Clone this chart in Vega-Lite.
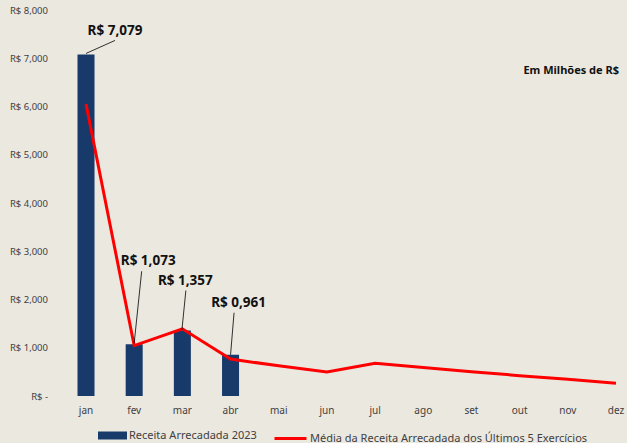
{
  "$schema": "https://vega.github.io/schema/vega-lite/v6.json",
  "width": 547,
  "height": 386,
  "autosize": "none",
  "padding": {"left": 77.5, "top": 10, "right": 2.5, "bottom": 47},
  "background": "#ebe8e0",
  "config": {
    "view": {"stroke": null},
    "font": "Noto Sans",
    "axis": {"grid": false, "domain": false, "ticks": false, "labelFont": "Noto Sans", "labelColor": "#404040", "title": null}
  },
  "data": {
    "values": [
      {"mes": "jan", "receita": 7079, "media": 6050, "rotulo": "R$ 7,079"},
      {"mes": "fev", "receita": 1073, "media": 1045, "rotulo": "R$ 1,073"},
      {"mes": "mar", "receita": 1357, "media": 1392, "rotulo": "R$ 1,357"},
      {"mes": "abr", "receita": 855, "media": 765, "rotulo": "R$ 0,961"},
      {"mes": "mai", "receita": null, "media": 625, "rotulo": null},
      {"mes": "jun", "receita": null, "media": 500, "rotulo": null},
      {"mes": "jul", "receita": null, "media": 680, "rotulo": null},
      {"mes": "ago", "receita": null, "media": 592, "rotulo": null},
      {"mes": "set", "receita": null, "media": 505, "rotulo": null},
      {"mes": "out", "receita": null, "media": 422, "rotulo": null},
      {"mes": "nov", "receita": null, "media": 345, "rotulo": null},
      {"mes": "dez", "receita": null, "media": 262, "rotulo": null}
    ]
  },
  "encoding": {
    "x": {
      "field": "mes", "type": "nominal",
      "scale": {"domain": ["jan","fev","mar","abr","mai","jun","jul","ago","set","out","nov","dez"], "paddingInner": 0.647, "paddingOuter": 0},
      "axis": {"labelAngle": 0, "labelFontSize": 10, "labelPadding": 9, "title": null}
    }
  },
  "layer": [
    {
      "mark": {"type": "bar"},
      "encoding": {
        "y": {"field": "receita", "type": "quantitative",
          "scale": {"domain": [0, 8000], "nice": false},
          "axis": {"values": [0,1000,2000,3000,4000,5000,6000,7000,8000], "labelFontSize": 9.5, "labelPadding": 30,
            "labelExpr": "datum.value == 0 ? 'R$ -' : 'R$ ' + format(datum.value, ',')"}},
        "fill": {"datum": "Receita Arrecadada 2023", "scale": {"range": ["#173a6b"]},
          "legend": {"orient": "none", "legendX": 20.5, "legendY": 411, "title": null, "padding": 0,
            "symbolType": "M-1,-0.276H1V0.276H-1Z", "symbolSize": 841, "symbolStrokeWidth": 0,
            "labelOffset": 2, "labelFontSize": 11, "labelColor": "#404040", "labelFont": "Noto Sans", "labelLimit": 400}}
      }
    },
    {
      "mark": {"type": "line", "strokeWidth": 3},
      "encoding": {
        "y": {"field": "media", "type": "quantitative"},
        "stroke": {"datum": "Média da Receita Arrecadada dos Últimos 5 Exercícios", "scale": {"range": ["#ff0000"]},
          "legend": {"orient": "none", "legendX": 195.5, "legendY": 411, "title": null, "padding": 0,
            "symbolType": "stroke", "symbolSize": 1024, "symbolStrokeWidth": 3,
            "labelOffset": 2, "labelFontSize": 11, "labelColor": "#404040", "labelFont": "Noto Sans", "labelLimit": 400}}
      }
    },
    {
      "transform": [{"filter": "datum.mes == 'jan'"}],
      "mark": {"type": "rule", "color": "#000000", "strokeWidth": 0.8, "yOffset": -1, "x2Offset": 29, "y2Offset": -14},
      "encoding": {"x": {"field": "mes", "type": "nominal", "bandPosition": 0.5}, "x2": {"field": "mes", "bandPosition": 0.5}, "y": {"field": "receita", "type": "quantitative"}, "y2": {"field": "receita"}}
    },
    {
      "transform": [{"filter": "datum.mes == 'fev'"}],
      "mark": {"type": "rule", "color": "#000000", "strokeWidth": 0.8, "yOffset": -1, "x2Offset": 7.5, "y2Offset": -73},
      "encoding": {"x": {"field": "mes", "type": "nominal", "bandPosition": 0.5}, "x2": {"field": "mes", "bandPosition": 0.5}, "y": {"field": "receita", "type": "quantitative"}, "y2": {"field": "receita"}}
    },
    {
      "transform": [{"filter": "datum.mes == 'mar'"}],
      "mark": {"type": "rule", "color": "#000000", "strokeWidth": 0.8, "xOffset": -0.5, "x2Offset": 3.5, "y2Offset": -40},
      "encoding": {"x": {"field": "mes", "type": "nominal", "bandPosition": 0.5}, "x2": {"field": "mes", "bandPosition": 0.5}, "y": {"field": "receita", "type": "quantitative"}, "y2": {"field": "receita"}}
    },
    {
      "transform": [{"filter": "datum.mes == 'abr'"}],
      "mark": {"type": "rule", "color": "#000000", "strokeWidth": 0.8, "x2Offset": 3.5, "y2Offset": -42},
      "encoding": {"x": {"field": "mes", "type": "nominal", "bandPosition": 0.5}, "x2": {"field": "mes", "bandPosition": 0.5}, "y": {"field": "receita", "type": "quantitative"}, "y2": {"field": "receita"}}
    },
    {
      "transform": [{"filter": "datum.mes == 'jan'"}],
      "mark": {"type": "text", "fontWeight": "bold", "fontSize": 13.5, "color": "#111111", "baseline": "middle", "dx": 29, "dy": -23},
      "encoding": {"y": {"field": "receita", "type": "quantitative"}, "text": {"field": "rotulo"}}
    },
    {
      "transform": [{"filter": "datum.mes == 'fev'"}],
      "mark": {"type": "text", "fontWeight": "bold", "fontSize": 13.5, "color": "#111111", "baseline": "middle", "dx": 14, "dy": -83},
      "encoding": {"y": {"field": "receita", "type": "quantitative"}, "text": {"field": "rotulo"}}
    },
    {
      "transform": [{"filter": "datum.mes == 'mar'"}],
      "mark": {"type": "text", "fontWeight": "bold", "fontSize": 13.5, "color": "#111111", "baseline": "middle", "dx": 3, "dy": -50},
      "encoding": {"y": {"field": "receita", "type": "quantitative"}, "text": {"field": "rotulo"}}
    },
    {
      "transform": [{"filter": "datum.mes == 'abr'"}],
      "mark": {"type": "text", "fontWeight": "bold", "fontSize": 13.5, "color": "#111111", "baseline": "middle", "dx": 8, "dy": -52},
      "encoding": {"y": {"field": "receita", "type": "quantitative"}, "text": {"field": "rotulo"}}
    },
    {
      "data": {"values": [{"nota": "Em Milhões de R$"}]},
      "mark": {"type": "text", "fontWeight": "bold", "fontSize": 11, "color": "#111111", "align": "right", "baseline": "middle", "dx": 3},
      "encoding": {"x": {"datum": "dez"}, "y": {"datum": 6735}, "text": {"field": "nota"}}
    }
  ]
}
